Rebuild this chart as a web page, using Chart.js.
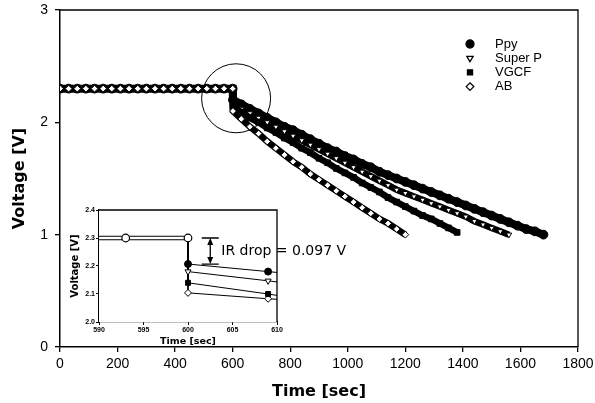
<!DOCTYPE html>
<html>
<head>
<meta charset="utf-8">
<script src="https://cdn.jsdelivr.net/npm/chart.js"></script>
<style>
  body { margin: 0; background: #fff; }
  #wrap { position: relative; width: 595px; height: 403px; }
  #main { position: absolute; left: 0; top: 0; }
  #inset { position: absolute; left: 64px; top: 200px; }
</style>
</head>
<body>
<div id="wrap">
  <canvas id="main" width="595" height="403"></canvas>
  <canvas id="inset" width="300" height="148"></canvas>
</div>
<script>
// main plot data (time in s, voltage in V)
const seriesNames = ["Ppy", "Super P", "VGCF", "AB"];
const restTime = [0, 30, 60, 90, 120, 150, 180, 210, 240, 270, 300, 330, 360, 390, 420, 450, 480, 510, 540, 570, 600];
const restVolt = [2.3, 2.3, 2.3, 2.3, 2.3, 2.3, 2.3, 2.3, 2.3, 2.3, 2.3, 2.3, 2.3, 2.3, 2.3, 2.3, 2.3, 2.3, 2.3, 2.3, 2.3];
const dischargeTime = [601, 630, 660, 690, 720, 750, 780, 810, 840, 870, 900, 930, 960, 990, 1020, 1050, 1080, 1110, 1140, 1170, 1200,
  1230, 1260, 1290, 1320, 1350, 1380, 1410, 1440, 1470, 1500, 1530, 1560, 1590, 1620, 1650, 1680];
const ppyVolt = [2.20, 2.16, 2.12, 2.08, 2.04, 2.00, 1.96, 1.93, 1.89, 1.85, 1.81, 1.77, 1.74, 1.70, 1.67, 1.63, 1.60, 1.56, 1.53, 1.50, 1.47,
  1.44, 1.41, 1.38, 1.35, 1.32, 1.29, 1.26, 1.23, 1.20, 1.17, 1.14, 1.11, 1.08, 1.05, 1.03, 1.00];
const superPVolt = [2.17, 2.12, 2.08, 2.04, 2.00, 1.96, 1.92, 1.88, 1.84, 1.80, 1.76, 1.72, 1.68, 1.64, 1.60, 1.56, 1.52, 1.48, 1.44, 1.40, 1.37,
  1.34, 1.31, 1.28, 1.25, 1.22, 1.19, 1.16, 1.12, 1.09, 1.06, 1.03, 1.00];
const vgcfVolt = [2.14, 2.09, 2.04, 2.00, 1.95, 1.91, 1.86, 1.82, 1.77, 1.73, 1.68, 1.64, 1.59, 1.55, 1.51, 1.46, 1.42, 1.38, 1.33, 1.29, 1.25,
  1.21, 1.17, 1.14, 1.10, 1.06, 1.02];
const abVolt = [2.10, 2.03, 1.96, 1.90, 1.83, 1.77, 1.71, 1.65, 1.60, 1.54, 1.49, 1.44, 1.39, 1.34, 1.29, 1.24, 1.19, 1.14, 1.10, 1.05, 1.00];
const xTicks = [0, 1800, 200];
const yTicks = [0, 3, 1];

// inset data (zoom around 600 s)
const insetRestTime = [586, 593, 600];
const insetRestVolt = [2.30, 2.30, 2.30];
const insetDropTime = [600, 609, 610];
const insetPpy = [2.207, 2.180, 2.177];
const insetSuperP = [2.180, 2.147, 2.143];
const insetVgcf = [2.140, 2.100, 2.095];
const insetAb = [2.104, 2.083, 2.081];
const insetXTicks = [590, 610, 5];
const insetYTicks = [2.0, 2.4, 0.1];
const irDropLabel = "IR drop = 0.097 V";

const sans = "'Liberation Sans', Arial, sans-serif";
const wide = "'DejaVu Sans', sans-serif";

const styles = [
  { pointStyle: "circle", rotation: 0, radius: 4, fill: "#000" },
  { pointStyle: "triangle", rotation: 180, radius: 3.6, fill: "#fff" },
  { pointStyle: "rect", rotation: 0, radius: 3.6, fill: "#000" },
  { pointStyle: "rectRot", rotation: 0, radius: 3.8, fill: "#fff" },
];
const bandRadius = [4.4, 3.2, 4, 3.4];

function pts(xs, ys) {
  return ys.map((v, i) => ({ x: xs[i], y: v }));
}
function mainSeries(volts) {
  return pts(restTime, restVolt).concat(pts(dischargeTime, volts));
}

const mainData = [ppyVolt, superPVolt, vgcfVolt, abVolt].map((v, i) => ({
  label: seriesNames[i],
  data: mainSeries(v),
  borderColor: "#000",
  borderWidth: i === 0 ? 8 : 6.5,
  pointStyle: styles[i].pointStyle,
  rotation: styles[i].rotation,
  pointRadius: bandRadius[i],
  pointBackgroundColor: styles[i].fill,
  pointBorderColor: "#000",
  pointBorderWidth: 1,
  order: 3 - i,
}));

function drawMarker(ctx, st, x, y) {
  ctx.save();
  ctx.fillStyle = st.fill;
  ctx.strokeStyle = "#000";
  ctx.lineWidth = 1.3;
  Chart.helpers.drawPoint(ctx, { pointStyle: st.pointStyle, radius: st.radius, rotation: st.rotation, borderWidth: 1.3 }, x, y);
  ctx.restore();
}

const framePlugin = {
  id: "frame",
  afterDraw(chart) {
    const { ctx, chartArea: a } = chart;
    ctx.save();
    ctx.strokeStyle = "#000";
    ctx.lineWidth = 1.3;
    ctx.beginPath();
    ctx.moveTo(a.left, a.top);
    ctx.lineTo(a.right, a.top);
    ctx.lineTo(a.right, a.bottom);
    ctx.stroke();
    ctx.restore();
  },
};

const mainExtras = {
  id: "mainExtras",
  afterDatasetsDraw(chart) {
    const { ctx, scales } = chart;
    // circle around the IR drop
    ctx.save();
    ctx.strokeStyle = "#000";
    ctx.lineWidth = 1;
    ctx.beginPath();
    ctx.arc(scales.x.getPixelForValue(612), scales.y.getPixelForValue(2.214), 34.5, 0, Math.PI * 2);
    ctx.stroke();
    // legend
    ctx.font = "13px " + sans;
    ctx.fillStyle = "#000";
    ctx.textBaseline = "middle";
    seriesNames.forEach((name, i) => {
      const y = 44 + i * 14.2;
      drawMarker(ctx, styles[i], 470, y);
      ctx.fillStyle = "#000";
      ctx.fillText(name, 495, y);
    });
    ctx.restore();
  },
};

new Chart(document.getElementById("main"), {
  type: "line",
  data: { datasets: mainData },
  options: {
    responsive: false,
    animation: false,
    devicePixelRatio: 1,
    layout: { padding: { top: 10, right: 17, left: 0, bottom: 0 } },
    plugins: { legend: { display: false }, tooltip: { enabled: false } },
    scales: {
      x: {
        type: "linear",
        min: xTicks[0], max: xTicks[1],
        ticks: { stepSize: xTicks[2], color: "#000", font: { family: sans, size: 14 }, padding: 4, maxRotation: 0, autoSkip: false,
          callback: (v) => String(v) },
        grid: { drawOnChartArea: false, color: "#000", tickLength: 5, lineWidth: 1.3 },
        border: { color: "#000", width: 1.5 },
        title: { display: true, text: "Time [sec]", color: "#000", font: { family: wide, size: 16, weight: "bold" }, padding: { top: 0, bottom: 1.4 } },
        afterFit(s) { s.height = 56; s.paddingLeft = 0; s.paddingRight = 0; },
      },
      y: {
        min: yTicks[0], max: yTicks[1],
        ticks: { stepSize: yTicks[2], color: "#000", font: { family: sans, size: 14 }, padding: 7 },
        grid: { drawOnChartArea: false, color: "#000", tickLength: 5, lineWidth: 1.3 },
        border: { color: "#000", width: 1.5 },
        title: { display: true, text: "Voltage [V]", color: "#000", font: { family: wide, size: 16, weight: "bold" }, padding: { top: 10.4, bottom: 0 } },
        afterFit(s) { s.width = 60; s.paddingTop = 0; s.paddingBottom = 0; },
      },
    },
  },
  plugins: [framePlugin, mainExtras],
});

// inset
const insetSets = [insetPpy, insetSuperP, insetVgcf, insetAb].map((v, i) => ({
  label: seriesNames[i],
  data: [{ x: insetRestTime[2], y: insetRestVolt[2] }].concat(pts(insetDropTime, v)),
  borderColor: "#000",
  borderWidth: 1,
  pointStyle: styles[i].pointStyle,
  rotation: styles[i].rotation,
  pointRadius: [0, 3.5, 3.5, 0],
  pointBackgroundColor: styles[i].fill,
  pointBorderColor: "#000",
  pointBorderWidth: 1,
  order: 5,
}));
insetSets.push(
  { label: "rest-outer", data: pts(insetRestTime, insetRestVolt), borderColor: "#000", borderWidth: 4.5, pointRadius: 0, order: 3 },
  { label: "rest-inner", data: pts(insetRestTime, insetRestVolt), borderColor: "#fff", borderWidth: 2.3, pointRadius: 0, order: 2 },
  { label: "rest", data: pts(insetRestTime, insetRestVolt), showLine: false, borderColor: "#000", pointStyle: "circle",
    pointRadius: [0, 3.8, 3.8], pointBackgroundColor: "#fff", pointBorderColor: "#000", pointBorderWidth: 1.2, order: 1 }
);

const irDrop = {
  id: "irDrop",
  beforeDatasetsDraw(chart) {
    const { ctx, chartArea: a } = chart;
    ctx.save();
    ctx.fillStyle = "#fff";
    ctx.fillRect(a.left, a.top, a.right - a.left, a.bottom - a.top);
    ctx.restore();
  },
  afterDraw(chart) {
    const { ctx, scales } = chart;
    const x = scales.x.getPixelForValue(602.5);
    const y1 = scales.y.getPixelForValue(insetRestVolt[2]);
    const y2 = scales.y.getPixelForValue(insetPpy[0]);
    ctx.save();
    ctx.strokeStyle = "#000";
    ctx.fillStyle = "#000";
    ctx.lineWidth = 1.3;
    ctx.beginPath();
    ctx.moveTo(x - 8.5, y1); ctx.lineTo(x + 8.5, y1);
    ctx.moveTo(x - 8.5, y2); ctx.lineTo(x + 8.5, y2);
    ctx.moveTo(x, y1 + 5); ctx.lineTo(x, y2 - 5);
    ctx.stroke();
    ctx.beginPath();
    ctx.moveTo(x, y1); ctx.lineTo(x - 3, y1 + 7); ctx.lineTo(x + 3, y1 + 7); ctx.closePath();
    ctx.moveTo(x, y2); ctx.lineTo(x - 3, y2 - 7); ctx.lineTo(x + 3, y2 - 7); ctx.closePath();
    ctx.fill();
    ctx.font = "14px " + wide;
    ctx.textBaseline = "middle";
    ctx.fillText(irDropLabel, x + 11, (y1 + y2) / 2 + 0.5);
    ctx.restore();
  },
};

new Chart(document.getElementById("inset"), {
  type: "line",
  data: { datasets: insetSets },
  options: {
    responsive: false,
    animation: false,
    devicePixelRatio: 1,
    layout: { padding: { top: 10, right: 87, left: 0, bottom: 0 } },
    plugins: { legend: { display: false }, tooltip: { enabled: false } },
    scales: {
      x: {
        type: "linear",
        min: insetXTicks[0], max: insetXTicks[1],
        ticks: { stepSize: insetXTicks[2], color: "#000", font: { family: sans, size: 7, weight: "bold" }, padding: 1, maxRotation: 0, autoSkip: false },
        grid: { drawOnChartArea: false, color: "#000", tickLength: 3, lineWidth: 1 },
        border: { color: "#000", width: 1.2 },
        title: { display: true, text: "Time [sec]", color: "#000", font: { family: wide, size: 9.5, weight: "bold" }, padding: { top: 0, bottom: 0.8 } },
        afterFit(s) { s.height = 26; s.paddingLeft = 0; s.paddingRight = 0; },
      },
      y: {
        min: insetYTicks[0], max: insetYTicks[1],
        ticks: { stepSize: insetYTicks[2], color: "#000", font: { family: sans, size: 7, weight: "bold" }, padding: 1, callback: (v) => v.toFixed(1) },
        grid: { drawOnChartArea: false, color: "#000", tickLength: 3, lineWidth: 1 },
        border: { color: "#000", width: 1.2 },
        title: { display: true, text: "Voltage [V]", color: "#000", font: { family: wide, size: 10, weight: "bold" }, padding: { top: 5, bottom: 0 } },
        afterFit(s) { s.width = 35; s.paddingTop = 0; s.paddingBottom = 0; },
      },
    },
  },
  plugins: [irDrop, framePlugin],
});
</script>
</body>
</html>
